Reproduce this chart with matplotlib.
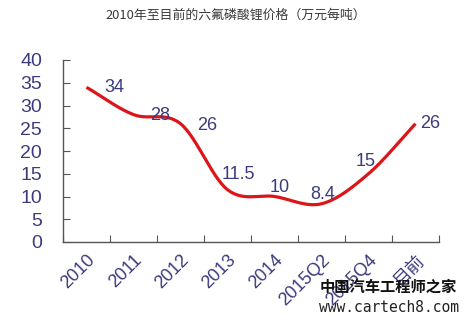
import numpy as np
import matplotlib
matplotlib.use("Agg")
import matplotlib.pyplot as plt

plt.rcParams['font.family'] = ['Noto Sans CJK SC', 'DejaVu Sans']

categories = ['2010', '2011', '2012', '2013', '2014', '2015Q2', '2015Q4', '目前']
prices = [34, 28, 26, 11.5, 10, 8.4, 15, 26]
labels = ['34', '28', '26', '11.5', '10', '8.4', '15', '26']
title = '2010年至目前的六氟磷酸锂价格（万元每吨）'

# label offsets in pixels (style, not data)
label_offsets = [(28, 0), (27, -1), (27, -2), (11, 15), (5, 9), (1, 9), (-3, 12), (15, 0)]

NUM_FONT = ['Liberation Sans', 'Noto Sans CJK SC']

fig = plt.figure(figsize=(4.67, 3.22), dpi=100)
ax = fig.add_axes([63/467, 1-242/322, (439-63)/467, (242-60)/322])

x = np.arange(len(prices)) + 0.5
y = np.array(prices, dtype=float)

# Catmull-Rom smoothing through the data points (like Excel smoothed line)
def catmull(xs, ys, n=30):
    px = np.concatenate([[2*xs[0]-xs[1]], xs, [2*xs[-1]-xs[-2]]])
    py = np.concatenate([[2*ys[0]-ys[1]], ys, [2*ys[-1]-ys[-2]]])
    ox, oy = [], []
    for i in range(1, len(px)-2):
        t = np.linspace(0, 1, n, endpoint=False)
        for p, o in ((px, ox), (py, oy)):
            p0, p1, p2, p3 = p[i-1], p[i], p[i+1], p[i+2]
            v = 0.5*((2*p1) + (-p0+p2)*t + (2*p0-5*p1+4*p2-p3)*t**2 + (-p0+3*p1-3*p2+p3)*t**3)
            o.extend(v)
    ox.append(xs[-1]); oy.append(ys[-1])
    return np.array(ox), np.array(oy)

sx, sy = catmull(x, y)
ax.plot(sx, sy, color='#dd1418', lw=2.3, solid_capstyle='butt')

label_color = '#3b3b7e'
for xi, yi, lab, (dx, dy) in zip(x, y, labels, label_offsets):
    ax.annotate(lab, (xi, yi), xytext=(dx*0.72, dy*0.72), textcoords='offset points',
                ha='center', va='center', fontsize=13, color=label_color,
                family=NUM_FONT)

ax.set_xlim(0, len(prices))
ax.set_ylim(0, 40)
ax.set_yticks(np.arange(0, 41, 5))
ax.set_yticklabels([str(v) for v in range(0, 41, 5)], family=NUM_FONT)
ax.set_xticks(np.arange(0, len(prices)+1))
ax.set_xticklabels([])
ax.set_xticks(x, minor=True)
ax.set_xticklabels(categories, minor=True, rotation=45, ha='right', va='top',
                   rotation_mode='anchor', family=NUM_FONT)
ax.tick_params(axis='x', which='minor', length=0, pad=7, labelsize=13, labelcolor=label_color)
ax.tick_params(axis='x', which='major', direction='in', length=5, color='#555555')
ax.tick_params(axis='y', direction='in', length=5, color='#555555', pad=15,
               labelsize=14, labelcolor=label_color)
for s in ['top', 'right']:
    ax.spines[s].set_visible(False)
for s in ['left', 'bottom']:
    ax.spines[s].set_color('#555555')
    ax.spines[s].set_linewidth(1.0)

fig.text(236/467, 1-15/322, title, ha='center', va='center', fontsize=9.3, color='#3a3a3a')

# watermark
fig.text(388/467, 1-287/322, '中国汽车工程师之家', ha='center', va='center', fontsize=11,
         color='#111111', family=['Noto Sans CJK SC'], fontweight='bold')
fig.text(389/467, 1-308/322, 'www.cartech8.com', ha='center', va='center', fontsize=10.5,
         color='#222222', family=['DejaVu Sans Mono'])

fig.savefig('out.png', dpi=100)
